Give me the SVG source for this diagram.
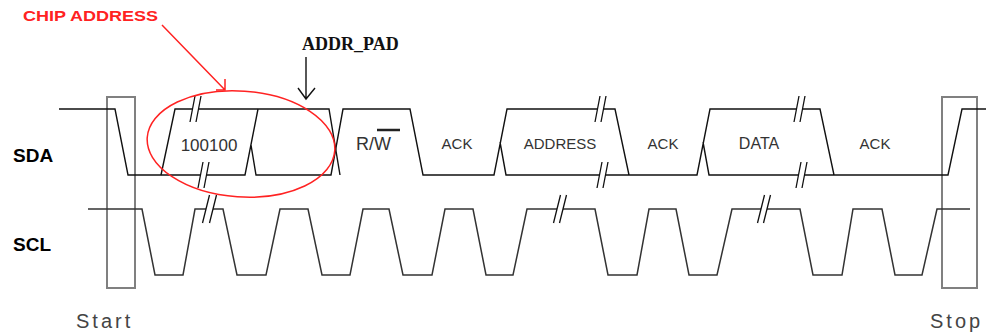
<svg xmlns="http://www.w3.org/2000/svg" width="998" height="333" viewBox="0 0 998 333">
<style>
.sig{fill:none;stroke:#111;stroke-width:1.4;stroke-linejoin:miter}
.scl{fill:none;stroke:#333;stroke-width:1.5}
.brk{fill:none;stroke:#111;stroke-width:1.3}
.box{fill:none;stroke:#808080;stroke-width:2}
.lbl{font-family:"Liberation Sans",Arial,sans-serif;font-weight:bold;font-size:19px;fill:#000}
.dat{font-family:"Liberation Sans",Arial,sans-serif;font-size:15px;fill:#333;text-anchor:middle}
.end{font-family:"Liberation Sans",Arial,sans-serif;font-size:20px;fill:#444;letter-spacing:3px}
.red{fill:none;stroke:#f22;stroke-width:1.5}
</style>
<rect width="998" height="333" fill="#fff"/>
<g id="start-box"><rect class="box" x="107" y="97" width="28" height="191"/></g>
<g id="stop-box"><rect class="box" x="942" y="97" width="35" height="191"/></g>
<g id="labels">
<text class="lbl" x="13" y="162">SDA</text>
<text class="lbl" x="13" y="251">SCL</text>
<text class="end" x="76" y="328">Start</text>
<text class="end" x="930" y="328">Stop</text>
</g>
<g id="connectors">
<path class="sig" d="M59,109 H115 L128,175 H200.5 M206.5,175 H245 L258,109 M251,145 L256,175 H331 L343,109 H410 L423,175 H494 L507,109 H598 M604,109 H615 L629,175 M500,142 L506,175 H600 M606,175 H697 L710,109 H797 M803,109 H820 L834,175 M703,142 L709,175 H799 M805,175 H948 L962,109 H986"/>
<path class="sig" d="M161,175 L175,109 H192.5 M198.5,109 H329 L340,175"/>
<path class="scl" d="M88,209 H142 L155,275 H183 L195,209 H206 M213,209 H223 L237,275 H266 L280,209 H308 L322,275 H350 L363,209 H389 L403,275 H432 L445,209 H473 L486,275 H513 L527,209 H557 M563,209 H595 L608,275 H637 L649,209 H676 L689,275 H717 L732,209 H761 M767,209 H800 L813,275 H842 L853,209 H882 L895,275 H922 L937,209 H970"/>
<g class="brk">
<path d="M190,122 L195,96 M196,122 L201,96"/>
<path d="M198,188 L203,162 M204,188 L209,162"/>
<path d="M202.5,223 L209.5,195 M209.5,223 L216.5,195"/>
<path d="M595,122 L600,96 M601,122 L606,96"/>
<path d="M597,188 L602,162 M603,188 L608,162"/>
<path d="M553.5,223 L560.5,195 M559.5,223 L566.5,195"/>
<path d="M794,122 L799,96 M800,122 L805,96"/>
<path d="M796,188 L801,162 M802,188 L807,162"/>
<path d="M757.5,223 L764.5,195 M763.5,223 L770.5,195"/>
</g>
<path fill="none" stroke="#111" stroke-width="1.4" d="M306,57 V99 M298,88 L306,99 L315,88"/>
<path class="red" d="M162,25 L225,90 M225,79 V90 H216"/>
</g>
<g id="chip-address-ellipse"><ellipse class="red" cx="241" cy="144" rx="94" ry="53" transform="rotate(4 241 144)"/></g>
<g id="annotations">
<text x="23" y="21" font-family="Liberation Sans,Arial,sans-serif" font-weight="bold" font-size="15" fill="#f22" textLength="135" lengthAdjust="spacingAndGlyphs">CHIP ADDRESS</text>
<text x="302" y="50" font-family="Liberation Serif,Times New Roman,serif" font-weight="bold" font-size="18" fill="#111">ADDR_PAD</text>
</g>
<g id="fields">
<text class="dat" x="209" y="151" style="font-size:17px">100100</text>
<text class="dat" x="356" y="150" style="text-anchor:start;font-size:18px">R/W</text>
<path d="M377,130 H400" stroke="#222" stroke-width="2.5"/>
<text class="dat" x="457" y="149">ACK</text>
<text class="dat" x="560" y="149">ADDRESS</text>
<text class="dat" x="663" y="149">ACK</text>
<text class="dat" x="759" y="149" style="font-size:16px">DATA</text>
<text class="dat" x="875" y="149">ACK</text>
</g>
</svg>
